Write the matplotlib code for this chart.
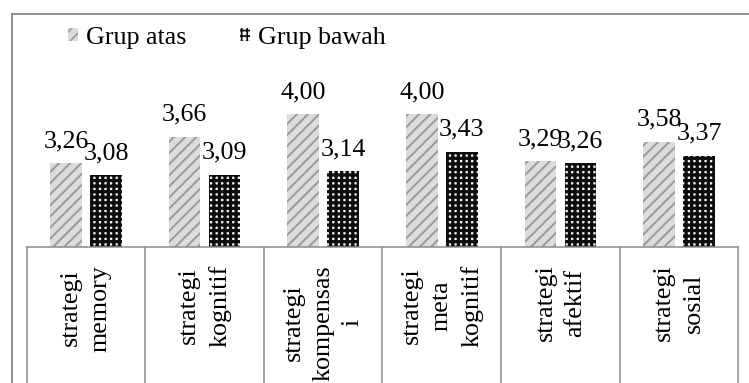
import matplotlib
matplotlib.use("Agg")
import matplotlib.pyplot as plt
import numpy as np
from matplotlib.patches import Patch
from matplotlib.lines import Line2D

plt.rcParams['font.family'] = ['Liberation Serif', 'DejaVu Serif']
plt.rcParams['hatch.linewidth'] = 1.2

categories = ["strategi\nmemory", "strategi\nkognitif", "strategi\nkompensas\ni",
              "strategi\nmeta\nkognitif", "strategi\nafektif", "strategi\nsosial"]
series_names = ["Grup atas", "Grup bawah"]
grup_atas = [3.26, 3.66, 4.00, 4.00, 3.29, 3.58]
grup_bawah = [3.08, 3.09, 3.14, 3.43, 3.26, 3.37]

y_min, y_max = 2.0, 4.5
W, H = 749, 383

fig = plt.figure(figsize=(W / 100, H / 100), dpi=100)
ax = fig.add_axes([26.7 / W, 1 - 246.7 / H, (738.3 - 26.7) / W, (246.7 - 81.2) / H])

x = np.arange(len(categories))
offset, width = 0.169, 0.267
fs = 18.7

styles = [
    dict(facecolor='#dcdcdc', edgecolor='#9a9a9a', hatch='///', hlw=1.4),
    dict(facecolor='#f2f2f2', edgecolor='#0d0d0d', hatch='+++', hlw=2.3),
]


def apply_hatch_width(patch, lw):
    patch.set_linewidth(0)
    if hasattr(patch, 'set_hatch_linewidth'):
        patch.set_hatch_linewidth(lw)


handles = []
for i, (vals, st) in enumerate(zip([grup_atas, grup_bawah], styles)):
    vals = np.asarray(vals)
    xpos = x + (i * 2 - 1) * offset
    bars = ax.bar(xpos, vals - y_min, bottom=y_min, width=width,
                  facecolor=st['facecolor'], edgecolor=st['edgecolor'], hatch=st['hatch'],
                  linewidth=0)
    for p in bars.patches:
        apply_hatch_width(p, st['hlw'])
    for xi, v in zip(xpos, vals):
        ax.annotate(f"{v:.2f}".replace('.', ','), (xi, v), xytext=(0, 11.7),
                    textcoords='offset points', ha='center', va='baseline', fontsize=fs)
    h = Patch(facecolor=st['facecolor'], edgecolor=st['edgecolor'], hatch=st['hatch'],
              linewidth=0)
    apply_hatch_width(h, st['hlw'])
    handles.append(h)

ax.set_xlim(-0.5, len(categories) - 0.5)
ax.set_ylim(y_min, y_max)
for s in ['top', 'left', 'right']:
    ax.spines[s].set_visible(False)
ax.spines['bottom'].set_color('#8c8c8c')
ax.spines['bottom'].set_linewidth(1.1)
ax.set_yticks([])
ax.set_xticks(x)
ax.set_xticklabels(categories, rotation=90, fontsize=fs, linespacing=1.45,
                   ha='center', va='top', multialignment='center')
ax.tick_params(axis='x', length=0, pad=13)

# category separators under the axis
trans = ax.get_xaxis_transform()
for b in np.arange(len(categories) + 1) - 0.5:
    ax.add_line(Line2D([b, b], [0, -1.0], transform=trans, color='#8c8c8c',
                       linewidth=1.1, clip_on=False))

# outer chart border
fig.add_artist(Line2D([11.5 / W, 1.0], [1 - 13.5 / H, 1 - 13.5 / H],
                      transform=fig.transFigure, color='#868686', linewidth=1.3))
fig.add_artist(Line2D([11.5 / W, 11.5 / W], [0, 1 - 13.5 / H],
                      transform=fig.transFigure, color='#868686', linewidth=1.3))

fig.legend(handles, series_names, loc='center left', bbox_to_anchor=(68 / W, 1 - 38 / H),
           ncol=2, frameon=False, fontsize=fs, handlelength=0.4, handleheight=0.4,
           handletextpad=0.3, columnspacing=2.05, borderpad=0, borderaxespad=0)

fig.savefig("out.png", dpi=100)
